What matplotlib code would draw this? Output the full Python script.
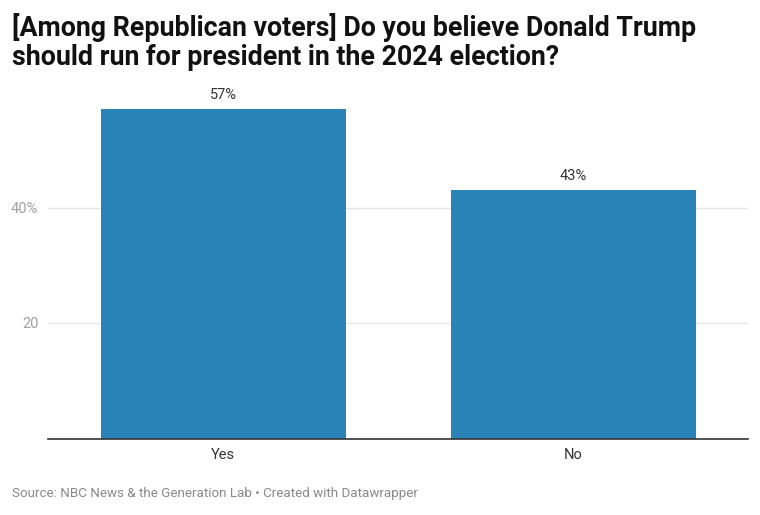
import matplotlib.pyplot as plt

plt.rcParams['font.family'] = ['Roboto', 'DejaVu Sans']

categories = ['Yes', 'No']
values = [57, 43]
y_ticks = [20, 40]
y_tick_labels = ['20', '40%']

fig = plt.figure(figsize=(7.6, 5.15), dpi=100)
ax = fig.add_axes([48 / 760, 1 - 438.5 / 515, 700 / 760, 338.5 / 515])

x = list(range(len(categories)))
ax.bar(x, values, width=0.7, color='#2a83b7', zorder=2)
for xi, v in zip(x, values):
    ax.text(xi, v + 1.2, f'{v}%', ha='center', va='bottom', fontsize=10.5, color='#333333')

ax.set_xlim(-0.5, 1.5)
ax.set_ylim(0, (438.5 - 100) / 5.775)
ax.set_xticks(x)
ax.set_xticklabels(categories, fontsize=10.5, color='#333333')
ax.set_yticks(y_ticks)
ax.set_yticklabels(y_tick_labels, fontsize=10.5, color='#a0a0a0')
ax.tick_params(axis='y', length=0, pad=7)
ax.tick_params(axis='x', length=0, pad=7)
ax.grid(axis='y', color='#e6e6e6', linewidth=1, zorder=0)
for s in ['top', 'right', 'left']:
    ax.spines[s].set_visible(False)
ax.spines['bottom'].set_color('#333333')
ax.spines['bottom'].set_linewidth(1.2)
ax.spines['bottom'].set_zorder(3)

fig.text(12 / 760, 1 - 13 / 515,
         '[Among Republican voters] Do you believe Donald Trump\nshould run for president in the 2024 election?',
         ha='left', va='top', fontsize=19.3, fontweight='bold', color='#111111', linespacing=1.1)
fig.text(12 / 760, 1 - 494 / 515,
         'Source: NBC News & the Generation Lab \u2022 Created with Datawrapper',
         ha='left', va='center', fontsize=9.6, color='#888888')

fig.savefig('out.png', dpi=100)
